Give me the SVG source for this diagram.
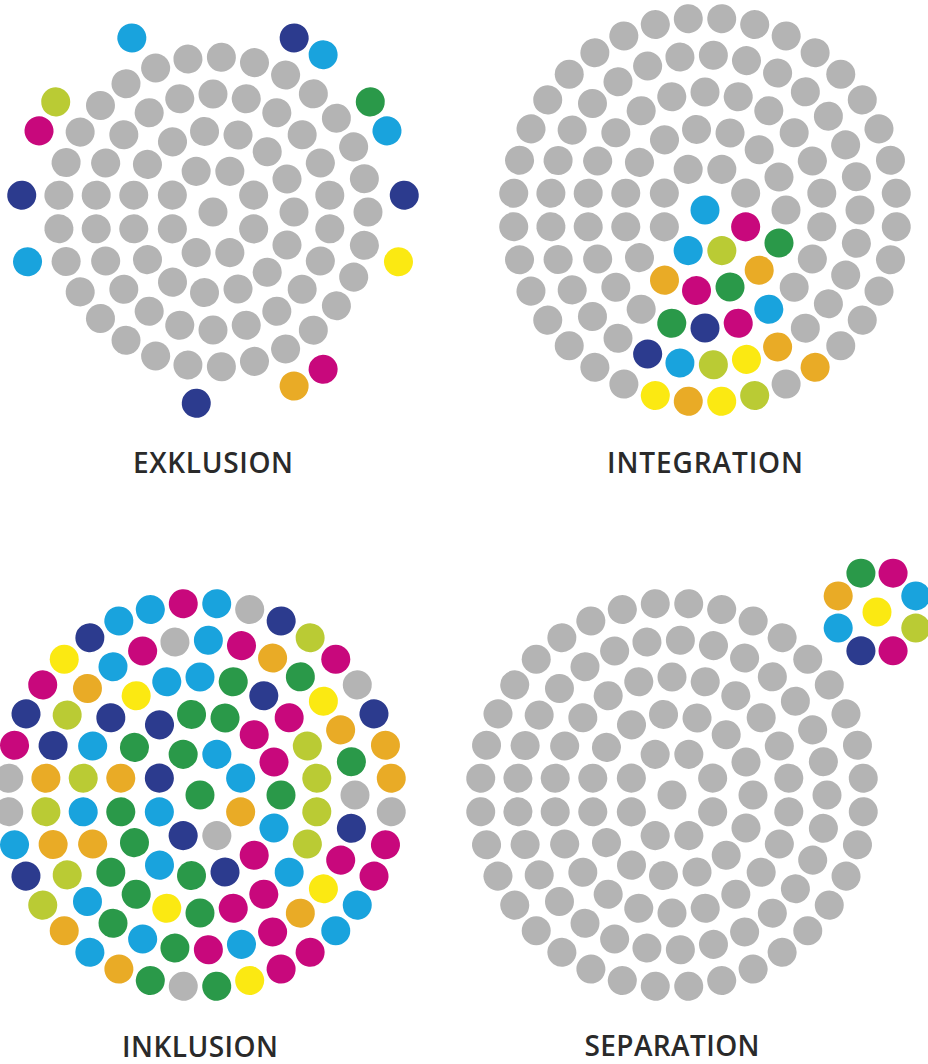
<svg xmlns="http://www.w3.org/2000/svg" xmlns:xlink="http://www.w3.org/1999/xlink" width="928" height="1064" viewBox="0 0 928 1064">
<style>
.gr{fill:#b4b4b4}
.c{fill:#19a3dd}
.n{fill:#2c3b8e}
.m{fill:#c8087c}
.g{fill:#2a9949}
.l{fill:#bacb34}
.y{fill:#fbe912}
.o{fill:#e9ab26}
.t{font-family:"Open Sans","Liberation Sans",sans-serif;font-weight:600;font-size:28px;fill:#2a2a2a;text-anchor:middle}
</style>
<defs>
<g id="R1">
<circle cy="-44" r="14.5" transform="rotate(22.5)"/><circle cy="-44" r="14.5" transform="rotate(67.5)"/><circle cy="-44" r="14.5" transform="rotate(112.5)"/><circle cy="-44" r="14.5" transform="rotate(157.5)"/><circle cy="-44" r="14.5" transform="rotate(202.5)"/><circle cy="-44" r="14.5" transform="rotate(247.5)"/><circle cy="-44" r="14.5" transform="rotate(292.5)"/><circle cy="-44" r="14.5" transform="rotate(337.5)"/>
</g>
<g id="R2">
<circle cy="-81" r="14.5" transform="rotate(18)"/><circle cy="-81" r="14.5" transform="rotate(42)"/><circle cy="-81" r="14.5" transform="rotate(66)"/><circle cy="-81" r="14.5" transform="rotate(90)"/><circle cy="-81" r="14.5" transform="rotate(114)"/><circle cy="-81" r="14.5" transform="rotate(138)"/><circle cy="-81" r="14.5" transform="rotate(162)"/><circle cy="-81" r="14.5" transform="rotate(186)"/><circle cy="-81" r="14.5" transform="rotate(210)"/><circle cy="-81" r="14.5" transform="rotate(234)"/><circle cy="-81" r="14.5" transform="rotate(258)"/><circle cy="-81" r="14.5" transform="rotate(282)"/><circle cy="-81" r="14.5" transform="rotate(306)"/><circle cy="-81" r="14.5" transform="rotate(330)"/><circle cy="-81" r="14.5" transform="rotate(354)"/>
</g>
<g id="R3">
<circle cy="-118" r="14.5" transform="rotate(0)"/><circle cy="-118" r="14.5" transform="rotate(16.36)"/><circle cy="-118" r="14.5" transform="rotate(32.73)"/><circle cy="-118" r="14.5" transform="rotate(49.09)"/><circle cy="-118" r="14.5" transform="rotate(65.45)"/><circle cy="-118" r="14.5" transform="rotate(81.82)"/><circle cy="-118" r="14.5" transform="rotate(98.18)"/><circle cy="-118" r="14.5" transform="rotate(114.55)"/><circle cy="-118" r="14.5" transform="rotate(130.91)"/><circle cy="-118" r="14.5" transform="rotate(147.27)"/><circle cy="-118" r="14.5" transform="rotate(163.64)"/><circle cy="-118" r="14.5" transform="rotate(180)"/><circle cy="-118" r="14.5" transform="rotate(196.36)"/><circle cy="-118" r="14.5" transform="rotate(212.73)"/><circle cy="-118" r="14.5" transform="rotate(229.09)"/><circle cy="-118" r="14.5" transform="rotate(245.45)"/><circle cy="-118" r="14.5" transform="rotate(261.82)"/><circle cy="-118" r="14.5" transform="rotate(278.18)"/><circle cy="-118" r="14.5" transform="rotate(294.55)"/><circle cy="-118" r="14.5" transform="rotate(310.91)"/><circle cy="-118" r="14.5" transform="rotate(327.27)"/><circle cy="-118" r="14.5" transform="rotate(343.64)"/>
</g>
<g id="R4">
<circle cy="-155" r="14.5" transform="rotate(3.1)"/><circle cy="-155" r="14.5" transform="rotate(15.52)"/><circle cy="-155" r="14.5" transform="rotate(27.93)"/><circle cy="-155" r="14.5" transform="rotate(40.34)"/><circle cy="-155" r="14.5" transform="rotate(52.76)"/><circle cy="-155" r="14.5" transform="rotate(65.17)"/><circle cy="-155" r="14.5" transform="rotate(77.59)"/><circle cy="-155" r="14.5" transform="rotate(90)"/><circle cy="-155" r="14.5" transform="rotate(102.41)"/><circle cy="-155" r="14.5" transform="rotate(114.83)"/><circle cy="-155" r="14.5" transform="rotate(127.24)"/><circle cy="-155" r="14.5" transform="rotate(139.66)"/><circle cy="-155" r="14.5" transform="rotate(152.07)"/><circle cy="-155" r="14.5" transform="rotate(164.48)"/><circle cy="-155" r="14.5" transform="rotate(176.9)"/><circle cy="-155" r="14.5" transform="rotate(189.31)"/><circle cy="-155" r="14.5" transform="rotate(201.72)"/><circle cy="-155" r="14.5" transform="rotate(214.14)"/><circle cy="-155" r="14.5" transform="rotate(226.55)"/><circle cy="-155" r="14.5" transform="rotate(238.97)"/><circle cy="-155" r="14.5" transform="rotate(251.38)"/><circle cy="-155" r="14.5" transform="rotate(263.79)"/><circle cy="-155" r="14.5" transform="rotate(276.21)"/><circle cy="-155" r="14.5" transform="rotate(288.62)"/><circle cy="-155" r="14.5" transform="rotate(301.03)"/><circle cy="-155" r="14.5" transform="rotate(313.45)"/><circle cy="-155" r="14.5" transform="rotate(325.86)"/><circle cy="-155" r="14.5" transform="rotate(338.28)"/><circle cy="-155" r="14.5" transform="rotate(350.69)"/>
</g>
<g id="R5">
<circle cy="-192" r="14.5" transform="rotate(5)"/><circle cy="-192" r="14.5" transform="rotate(15)"/><circle cy="-192" r="14.5" transform="rotate(25)"/><circle cy="-192" r="14.5" transform="rotate(35)"/><circle cy="-192" r="14.5" transform="rotate(45)"/><circle cy="-192" r="14.5" transform="rotate(55)"/><circle cy="-192" r="14.5" transform="rotate(65)"/><circle cy="-192" r="14.5" transform="rotate(75)"/><circle cy="-192" r="14.5" transform="rotate(85)"/><circle cy="-192" r="14.5" transform="rotate(95)"/><circle cy="-192" r="14.5" transform="rotate(105)"/><circle cy="-192" r="14.5" transform="rotate(115)"/><circle cy="-192" r="14.5" transform="rotate(125)"/><circle cy="-192" r="14.5" transform="rotate(135)"/><circle cy="-192" r="14.5" transform="rotate(145)"/><circle cy="-192" r="14.5" transform="rotate(155)"/><circle cy="-192" r="14.5" transform="rotate(165)"/><circle cy="-192" r="14.5" transform="rotate(175)"/><circle cy="-192" r="14.5" transform="rotate(185)"/><circle cy="-192" r="14.5" transform="rotate(195)"/><circle cy="-192" r="14.5" transform="rotate(205)"/><circle cy="-192" r="14.5" transform="rotate(215)"/><circle cy="-192" r="14.5" transform="rotate(225)"/><circle cy="-192" r="14.5" transform="rotate(235)"/><circle cy="-192" r="14.5" transform="rotate(245)"/><circle cy="-192" r="14.5" transform="rotate(255)"/><circle cy="-192" r="14.5" transform="rotate(265)"/><circle cy="-192" r="14.5" transform="rotate(275)"/><circle cy="-192" r="14.5" transform="rotate(285)"/><circle cy="-192" r="14.5" transform="rotate(295)"/><circle cy="-192" r="14.5" transform="rotate(305)"/><circle cy="-192" r="14.5" transform="rotate(315)"/><circle cy="-192" r="14.5" transform="rotate(325)"/><circle cy="-192" r="14.5" transform="rotate(335)"/><circle cy="-192" r="14.5" transform="rotate(345)"/><circle cy="-192" r="14.5" transform="rotate(355)"/>
</g>
</defs>
<rect width="928" height="1064" fill="#ffffff"/>

<g id="exklusion" transform="translate(213,212)">
<g class="gr"><circle r="14.5"/><use href="#R1"/><use href="#R2"/><use href="#R3"/><use href="#R4"/></g>
<circle class="n" cy="-192" r="14.5" transform="rotate(25)"/>
<circle class="c" cy="-192" r="14.5" transform="rotate(35)"/>
<circle class="g" cy="-192" r="14.5" transform="rotate(55)"/>
<circle class="c" cy="-192" r="14.5" transform="rotate(65)"/>
<circle class="n" cy="-192" r="14.5" transform="rotate(85)"/>
<circle class="y" cy="-192" r="14.5" transform="rotate(105)"/>
<circle class="m" cy="-192" r="14.5" transform="rotate(145)"/>
<circle class="o" cy="-192" r="14.5" transform="rotate(155)"/>
<circle class="n" cy="-192" r="14.5" transform="rotate(185)"/>
<circle class="c" cy="-192" r="14.5" transform="rotate(255)"/>
<circle class="n" cy="-192" r="14.5" transform="rotate(275)"/>
<circle class="m" cy="-192" r="14.5" transform="rotate(295)"/>
<circle class="l" cy="-192" r="14.5" transform="rotate(305)"/>
<circle class="c" cy="-192" r="14.5" transform="rotate(335)"/>
</g>

<g id="integration" transform="translate(705,210)" class="gr">
<circle class="c" r="14.5"/>
<circle cy="-44" r="14.5" transform="rotate(22.5)"/><circle cy="-44" r="14.5" transform="rotate(67.5)"/><circle class="m" cy="-44" r="14.5" transform="rotate(112.5)"/><circle class="l" cy="-44" r="14.5" transform="rotate(157.5)"/><circle class="c" cy="-44" r="14.5" transform="rotate(202.5)"/><circle cy="-44" r="14.5" transform="rotate(247.5)"/><circle cy="-44" r="14.5" transform="rotate(292.5)"/><circle cy="-44" r="14.5" transform="rotate(337.5)"/>
<circle cy="-81" r="14.5" transform="rotate(18)"/><circle cy="-81" r="14.5" transform="rotate(42)"/><circle cy="-81" r="14.5" transform="rotate(66)"/><circle cy="-81" r="14.5" transform="rotate(90)"/><circle class="g" cy="-81" r="14.5" transform="rotate(114)"/><circle class="o" cy="-81" r="14.5" transform="rotate(138)"/><circle class="g" cy="-81" r="14.5" transform="rotate(162)"/><circle class="m" cy="-81" r="14.5" transform="rotate(186)"/><circle class="o" cy="-81" r="14.5" transform="rotate(210)"/><circle cy="-81" r="14.5" transform="rotate(234)"/><circle cy="-81" r="14.5" transform="rotate(258)"/><circle cy="-81" r="14.5" transform="rotate(282)"/><circle cy="-81" r="14.5" transform="rotate(306)"/><circle cy="-81" r="14.5" transform="rotate(330)"/><circle cy="-81" r="14.5" transform="rotate(354)"/>
<circle cy="-118" r="14.5" transform="rotate(0)"/><circle cy="-118" r="14.5" transform="rotate(16.36)"/><circle cy="-118" r="14.5" transform="rotate(32.73)"/><circle cy="-118" r="14.5" transform="rotate(49.09)"/><circle cy="-118" r="14.5" transform="rotate(65.45)"/><circle cy="-118" r="14.5" transform="rotate(81.82)"/><circle cy="-118" r="14.5" transform="rotate(98.18)"/><circle cy="-118" r="14.5" transform="rotate(114.55)"/><circle cy="-118" r="14.5" transform="rotate(130.91)"/><circle class="c" cy="-118" r="14.5" transform="rotate(147.27)"/><circle class="m" cy="-118" r="14.5" transform="rotate(163.64)"/><circle class="n" cy="-118" r="14.5" transform="rotate(180)"/><circle class="g" cy="-118" r="14.5" transform="rotate(196.36)"/><circle cy="-118" r="14.5" transform="rotate(212.73)"/><circle cy="-118" r="14.5" transform="rotate(229.09)"/><circle cy="-118" r="14.5" transform="rotate(245.45)"/><circle cy="-118" r="14.5" transform="rotate(261.82)"/><circle cy="-118" r="14.5" transform="rotate(278.18)"/><circle cy="-118" r="14.5" transform="rotate(294.55)"/><circle cy="-118" r="14.5" transform="rotate(310.91)"/><circle cy="-118" r="14.5" transform="rotate(327.27)"/><circle cy="-118" r="14.5" transform="rotate(343.64)"/>
<circle cy="-155" r="14.5" transform="rotate(3.1)"/><circle cy="-155" r="14.5" transform="rotate(15.52)"/><circle cy="-155" r="14.5" transform="rotate(27.93)"/><circle cy="-155" r="14.5" transform="rotate(40.34)"/><circle cy="-155" r="14.5" transform="rotate(52.76)"/><circle cy="-155" r="14.5" transform="rotate(65.17)"/><circle cy="-155" r="14.5" transform="rotate(77.59)"/><circle cy="-155" r="14.5" transform="rotate(90)"/><circle cy="-155" r="14.5" transform="rotate(102.41)"/><circle cy="-155" r="14.5" transform="rotate(114.83)"/><circle cy="-155" r="14.5" transform="rotate(127.24)"/><circle cy="-155" r="14.5" transform="rotate(139.66)"/><circle class="o" cy="-155" r="14.5" transform="rotate(152.07)"/><circle class="y" cy="-155" r="14.5" transform="rotate(164.48)"/><circle class="l" cy="-155" r="14.5" transform="rotate(176.9)"/><circle class="c" cy="-155" r="14.5" transform="rotate(189.31)"/><circle class="n" cy="-155" r="14.5" transform="rotate(201.72)"/><circle cy="-155" r="14.5" transform="rotate(214.14)"/><circle cy="-155" r="14.5" transform="rotate(226.55)"/><circle cy="-155" r="14.5" transform="rotate(238.97)"/><circle cy="-155" r="14.5" transform="rotate(251.38)"/><circle cy="-155" r="14.5" transform="rotate(263.79)"/><circle cy="-155" r="14.5" transform="rotate(276.21)"/><circle cy="-155" r="14.5" transform="rotate(288.62)"/><circle cy="-155" r="14.5" transform="rotate(301.03)"/><circle cy="-155" r="14.5" transform="rotate(313.45)"/><circle cy="-155" r="14.5" transform="rotate(325.86)"/><circle cy="-155" r="14.5" transform="rotate(338.28)"/><circle cy="-155" r="14.5" transform="rotate(350.69)"/>
<circle cy="-192" r="14.5" transform="rotate(5)"/><circle cy="-192" r="14.5" transform="rotate(15)"/><circle cy="-192" r="14.5" transform="rotate(25)"/><circle cy="-192" r="14.5" transform="rotate(35)"/><circle cy="-192" r="14.5" transform="rotate(45)"/><circle cy="-192" r="14.5" transform="rotate(55)"/><circle cy="-192" r="14.5" transform="rotate(65)"/><circle cy="-192" r="14.5" transform="rotate(75)"/><circle cy="-192" r="14.5" transform="rotate(85)"/><circle cy="-192" r="14.5" transform="rotate(95)"/><circle cy="-192" r="14.5" transform="rotate(105)"/><circle cy="-192" r="14.5" transform="rotate(115)"/><circle cy="-192" r="14.5" transform="rotate(125)"/><circle cy="-192" r="14.5" transform="rotate(135)"/><circle class="o" cy="-192" r="14.5" transform="rotate(145)"/><circle cy="-192" r="14.5" transform="rotate(155)"/><circle class="l" cy="-192" r="14.5" transform="rotate(165)"/><circle class="y" cy="-192" r="14.5" transform="rotate(175)"/><circle class="o" cy="-192" r="14.5" transform="rotate(185)"/><circle class="y" cy="-192" r="14.5" transform="rotate(195)"/><circle cy="-192" r="14.5" transform="rotate(205)"/><circle cy="-192" r="14.5" transform="rotate(215)"/><circle cy="-192" r="14.5" transform="rotate(225)"/><circle cy="-192" r="14.5" transform="rotate(235)"/><circle cy="-192" r="14.5" transform="rotate(245)"/><circle cy="-192" r="14.5" transform="rotate(255)"/><circle cy="-192" r="14.5" transform="rotate(265)"/><circle cy="-192" r="14.5" transform="rotate(275)"/><circle cy="-192" r="14.5" transform="rotate(285)"/><circle cy="-192" r="14.5" transform="rotate(295)"/><circle cy="-192" r="14.5" transform="rotate(305)"/><circle cy="-192" r="14.5" transform="rotate(315)"/><circle cy="-192" r="14.5" transform="rotate(325)"/><circle cy="-192" r="14.5" transform="rotate(335)"/><circle cy="-192" r="14.5" transform="rotate(345)"/><circle cy="-192" r="14.5" transform="rotate(355)"/>
</g>

<g id="inklusion" transform="translate(200,795)">
<circle class="g" r="14.5"/>
<circle class="c" cy="-44" r="14.5" transform="rotate(22.5)"/><circle class="c" cy="-44" r="14.5" transform="rotate(67.5)"/><circle class="o" cy="-44" r="14.5" transform="rotate(112.5)"/><circle class="gr" cy="-44" r="14.5" transform="rotate(157.5)"/><circle class="n" cy="-44" r="14.5" transform="rotate(202.5)"/><circle class="c" cy="-44" r="14.5" transform="rotate(247.5)"/><circle class="n" cy="-44" r="14.5" transform="rotate(292.5)"/><circle class="g" cy="-44" r="14.5" transform="rotate(337.5)"/>
<circle class="g" cy="-81" r="14.5" transform="rotate(18)"/><circle class="m" cy="-81" r="14.5" transform="rotate(42)"/><circle class="m" cy="-81" r="14.5" transform="rotate(66)"/><circle class="g" cy="-81" r="14.5" transform="rotate(90)"/><circle class="c" cy="-81" r="14.5" transform="rotate(114)"/><circle class="m" cy="-81" r="14.5" transform="rotate(138)"/><circle class="n" cy="-81" r="14.5" transform="rotate(162)"/><circle class="g" cy="-81" r="14.5" transform="rotate(186)"/><circle class="c" cy="-81" r="14.5" transform="rotate(210)"/><circle class="g" cy="-81" r="14.5" transform="rotate(234)"/><circle class="g" cy="-81" r="14.5" transform="rotate(258)"/><circle class="o" cy="-81" r="14.5" transform="rotate(282)"/><circle class="g" cy="-81" r="14.5" transform="rotate(306)"/><circle class="n" cy="-81" r="14.5" transform="rotate(330)"/><circle class="g" cy="-81" r="14.5" transform="rotate(354)"/>
<circle class="c" cy="-118" r="14.5" transform="rotate(0)"/><circle class="g" cy="-118" r="14.5" transform="rotate(16.36)"/><circle class="n" cy="-118" r="14.5" transform="rotate(32.73)"/><circle class="m" cy="-118" r="14.5" transform="rotate(49.09)"/><circle class="l" cy="-118" r="14.5" transform="rotate(65.45)"/><circle class="l" cy="-118" r="14.5" transform="rotate(81.82)"/><circle class="l" cy="-118" r="14.5" transform="rotate(98.18)"/><circle class="l" cy="-118" r="14.5" transform="rotate(114.55)"/><circle class="c" cy="-118" r="14.5" transform="rotate(130.91)"/><circle class="m" cy="-118" r="14.5" transform="rotate(147.27)"/><circle class="m" cy="-118" r="14.5" transform="rotate(163.64)"/><circle class="g" cy="-118" r="14.5" transform="rotate(180)"/><circle class="y" cy="-118" r="14.5" transform="rotate(196.36)"/><circle class="g" cy="-118" r="14.5" transform="rotate(212.73)"/><circle class="g" cy="-118" r="14.5" transform="rotate(229.09)"/><circle class="o" cy="-118" r="14.5" transform="rotate(245.45)"/><circle class="c" cy="-118" r="14.5" transform="rotate(261.82)"/><circle class="l" cy="-118" r="14.5" transform="rotate(278.18)"/><circle class="c" cy="-118" r="14.5" transform="rotate(294.55)"/><circle class="n" cy="-118" r="14.5" transform="rotate(310.91)"/><circle class="y" cy="-118" r="14.5" transform="rotate(327.27)"/><circle class="c" cy="-118" r="14.5" transform="rotate(343.64)"/>
<circle class="c" cy="-155" r="14.5" transform="rotate(3.1)"/><circle class="m" cy="-155" r="14.5" transform="rotate(15.52)"/><circle class="o" cy="-155" r="14.5" transform="rotate(27.93)"/><circle class="g" cy="-155" r="14.5" transform="rotate(40.34)"/><circle class="y" cy="-155" r="14.5" transform="rotate(52.76)"/><circle class="o" cy="-155" r="14.5" transform="rotate(65.17)"/><circle class="g" cy="-155" r="14.5" transform="rotate(77.59)"/><circle class="gr" cy="-155" r="14.5" transform="rotate(90)"/><circle class="n" cy="-155" r="14.5" transform="rotate(102.41)"/><circle class="m" cy="-155" r="14.5" transform="rotate(114.83)"/><circle class="y" cy="-155" r="14.5" transform="rotate(127.24)"/><circle class="o" cy="-155" r="14.5" transform="rotate(139.66)"/><circle class="m" cy="-155" r="14.5" transform="rotate(152.07)"/><circle class="c" cy="-155" r="14.5" transform="rotate(164.48)"/><circle class="m" cy="-155" r="14.5" transform="rotate(176.9)"/><circle class="g" cy="-155" r="14.5" transform="rotate(189.31)"/><circle class="c" cy="-155" r="14.5" transform="rotate(201.72)"/><circle class="g" cy="-155" r="14.5" transform="rotate(214.14)"/><circle class="c" cy="-155" r="14.5" transform="rotate(226.55)"/><circle class="l" cy="-155" r="14.5" transform="rotate(238.97)"/><circle class="o" cy="-155" r="14.5" transform="rotate(251.38)"/><circle class="l" cy="-155" r="14.5" transform="rotate(263.79)"/><circle class="o" cy="-155" r="14.5" transform="rotate(276.21)"/><circle class="n" cy="-155" r="14.5" transform="rotate(288.62)"/><circle class="l" cy="-155" r="14.5" transform="rotate(301.03)"/><circle class="o" cy="-155" r="14.5" transform="rotate(313.45)"/><circle class="c" cy="-155" r="14.5" transform="rotate(325.86)"/><circle class="m" cy="-155" r="14.5" transform="rotate(338.28)"/><circle class="gr" cy="-155" r="14.5" transform="rotate(350.69)"/>
<circle class="c" cy="-192" r="14.5" transform="rotate(5)"/><circle class="gr" cy="-192" r="14.5" transform="rotate(15)"/><circle class="n" cy="-192" r="14.5" transform="rotate(25)"/><circle class="l" cy="-192" r="14.5" transform="rotate(35)"/><circle class="m" cy="-192" r="14.5" transform="rotate(45)"/><circle class="gr" cy="-192" r="14.5" transform="rotate(55)"/><circle class="n" cy="-192" r="14.5" transform="rotate(65)"/><circle class="o" cy="-192" r="14.5" transform="rotate(75)"/><circle class="o" cy="-192" r="14.5" transform="rotate(85)"/><circle class="gr" cy="-192" r="14.5" transform="rotate(95)"/><circle class="m" cy="-192" r="14.5" transform="rotate(105)"/><circle class="m" cy="-192" r="14.5" transform="rotate(115)"/><circle class="c" cy="-192" r="14.5" transform="rotate(125)"/><circle class="c" cy="-192" r="14.5" transform="rotate(135)"/><circle class="m" cy="-192" r="14.5" transform="rotate(145)"/><circle class="m" cy="-192" r="14.5" transform="rotate(155)"/><circle class="y" cy="-192" r="14.5" transform="rotate(165)"/><circle class="g" cy="-192" r="14.5" transform="rotate(175)"/><circle class="gr" cy="-192" r="14.5" transform="rotate(185)"/><circle class="g" cy="-192" r="14.5" transform="rotate(195)"/><circle class="o" cy="-192" r="14.5" transform="rotate(205)"/><circle class="c" cy="-192" r="14.5" transform="rotate(215)"/><circle class="o" cy="-192" r="14.5" transform="rotate(225)"/><circle class="l" cy="-192" r="14.5" transform="rotate(235)"/><circle class="n" cy="-192" r="14.5" transform="rotate(245)"/><circle class="c" cy="-192" r="14.5" transform="rotate(255)"/><circle class="gr" cy="-192" r="14.5" transform="rotate(265)"/><circle class="gr" cy="-192" r="14.5" transform="rotate(275)"/><circle class="m" cy="-192" r="14.5" transform="rotate(285)"/><circle class="n" cy="-192" r="14.5" transform="rotate(295)"/><circle class="m" cy="-192" r="14.5" transform="rotate(305)"/><circle class="y" cy="-192" r="14.5" transform="rotate(315)"/><circle class="n" cy="-192" r="14.5" transform="rotate(325)"/><circle class="c" cy="-192" r="14.5" transform="rotate(335)"/><circle class="c" cy="-192" r="14.5" transform="rotate(345)"/><circle class="m" cy="-192" r="14.5" transform="rotate(355)"/>
</g>

<g id="separation" transform="translate(672,795)">
<g class="gr"><circle r="14.5"/><use href="#R1"/><use href="#R2"/><use href="#R3"/><use href="#R4"/><use href="#R5"/></g>
</g>

<g id="separated-group" transform="translate(877,612)">
<circle class="y" r="14.5"/>
<circle class="m" cy="-42" r="14.5" transform="rotate(22.5)"/>
<circle class="c" cy="-42" r="14.5" transform="rotate(67.5)"/>
<circle class="l" cy="-42" r="14.5" transform="rotate(112.5)"/>
<circle class="m" cy="-42" r="14.5" transform="rotate(157.5)"/>
<circle class="n" cy="-42" r="14.5" transform="rotate(202.5)"/>
<circle class="c" cy="-42" r="14.5" transform="rotate(247.5)"/>
<circle class="o" cy="-42" r="14.5" transform="rotate(292.5)"/>
<circle class="g" cy="-42" r="14.5" transform="rotate(337.5)"/>
</g>

<g id="labels">
<text class="t" x="213" y="473" textLength="160">EXKLUSION</text>
<text class="t" x="705" y="473" textLength="196">INTEGRATION</text>
<text class="t" x="200" y="1057" textLength="156">INKLUSION</text>
<text class="t" x="672" y="1056" textLength="175">SEPARATION</text>
</g>
</svg>
